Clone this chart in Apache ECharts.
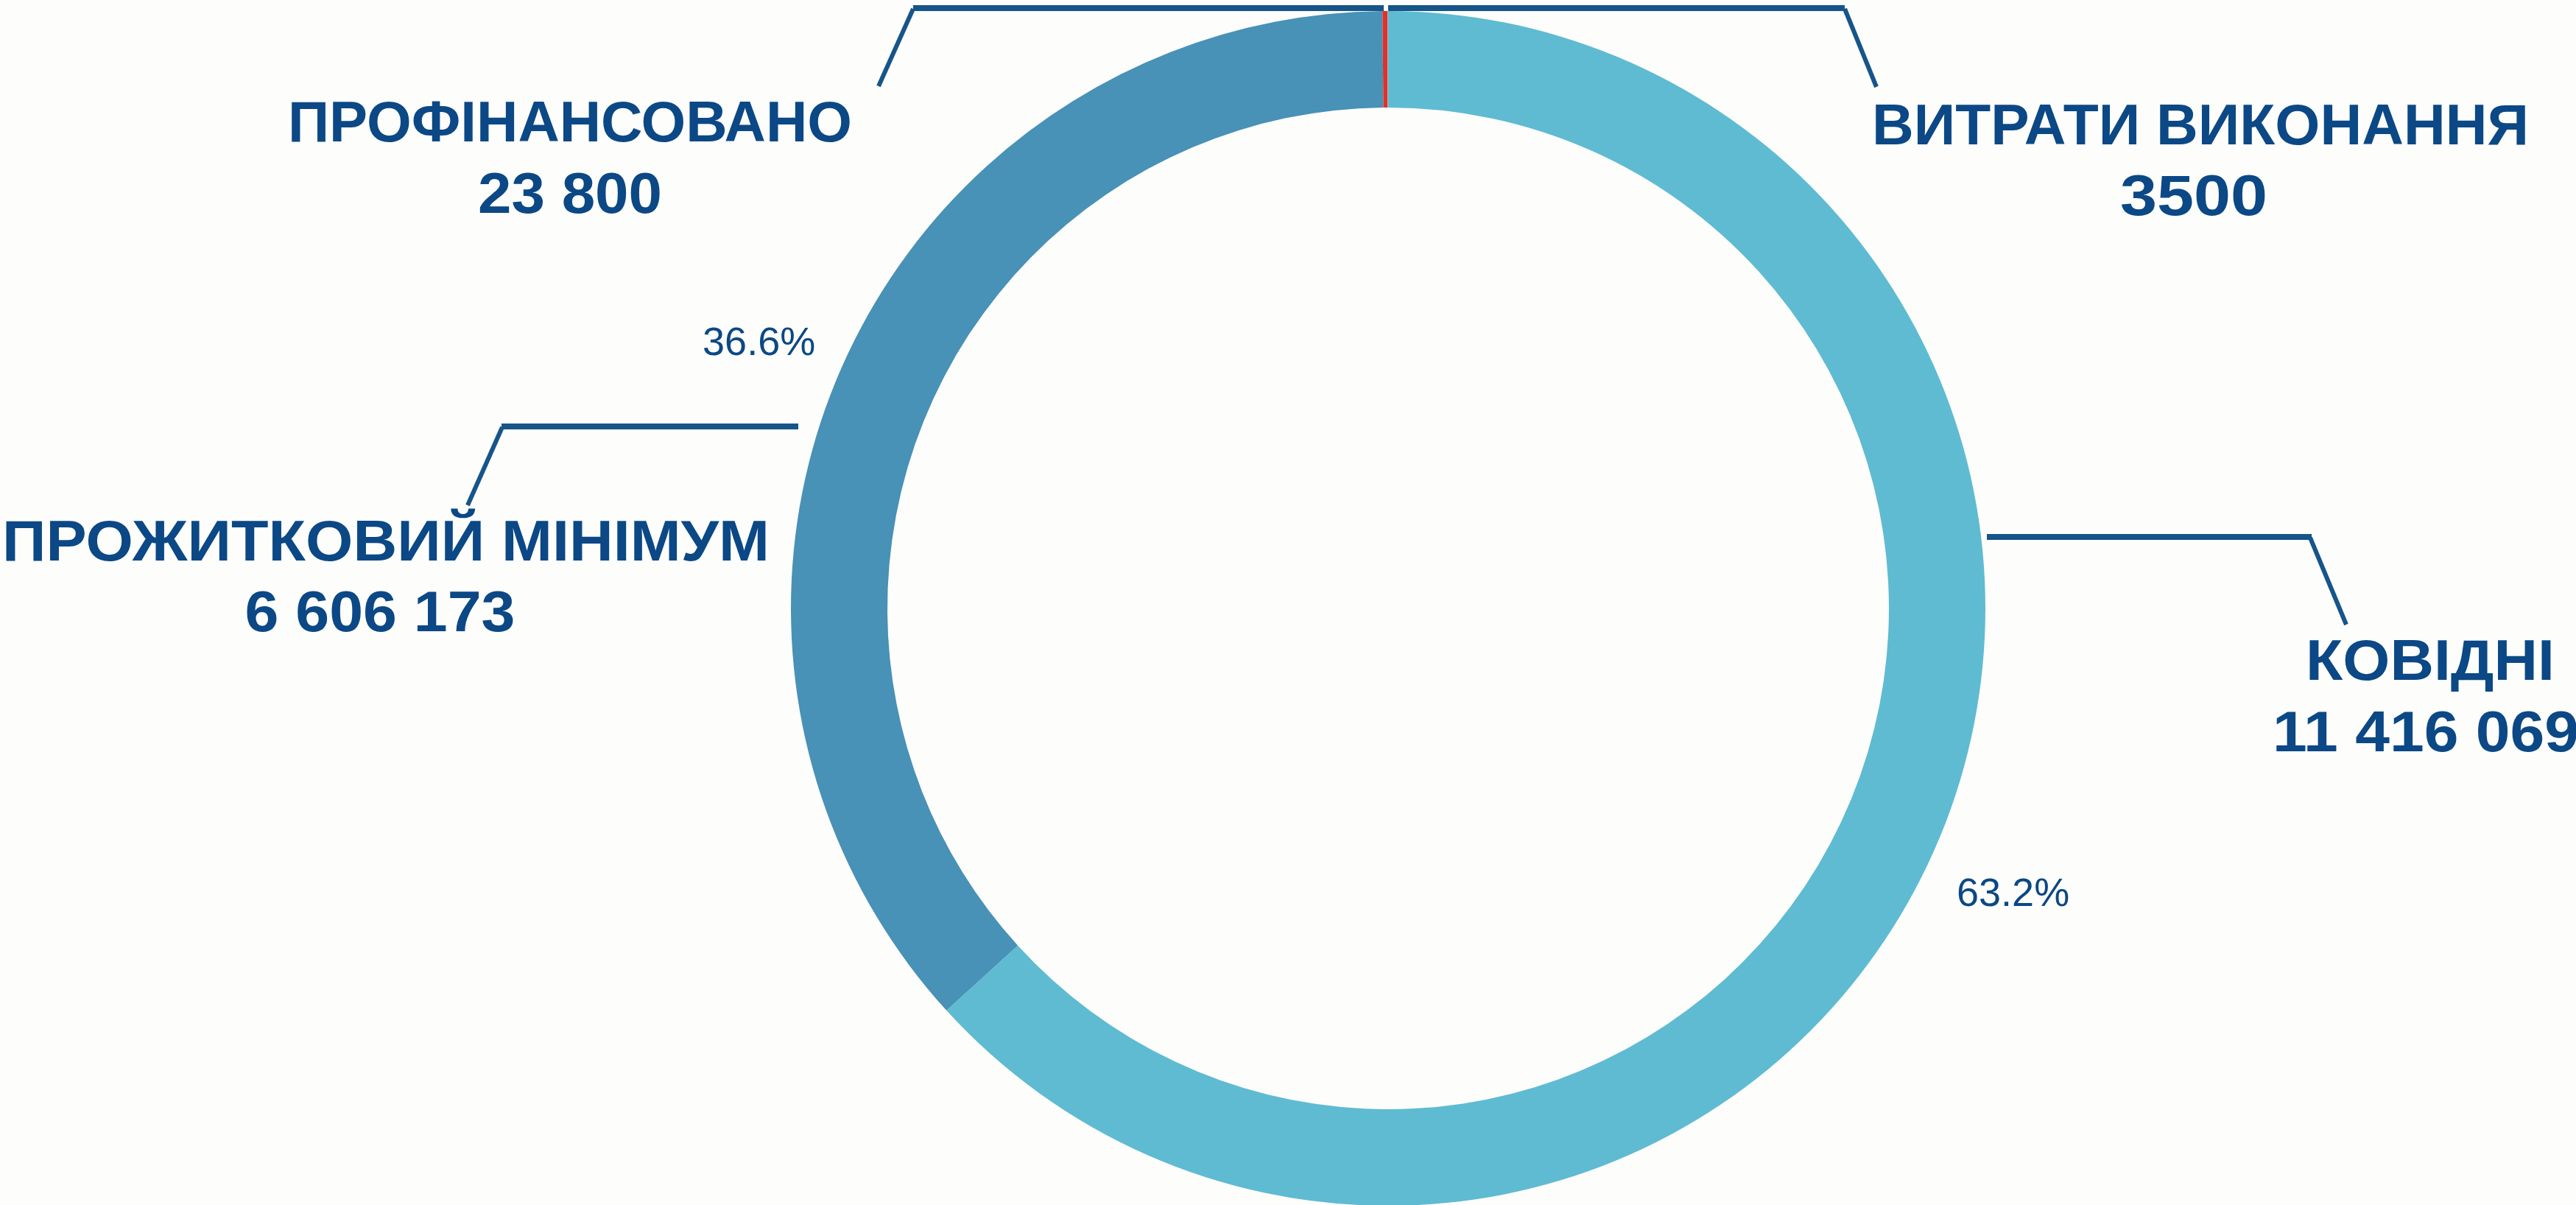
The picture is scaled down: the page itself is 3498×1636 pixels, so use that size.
<!DOCTYPE html>
<html>
<head>
<meta charset="utf-8">
<script src="https://cdn.jsdelivr.net/npm/echarts@6/dist/echarts.min.js"></script>
<style>
html,body{margin:0;padding:0;background:#fdfdfb;}
#c{width:3498px;height:1636px;}
</style>
</head>
<body>
<div id="c"></div>
<script>
// ---- data ----
const categories = ['КОВІДНІ', 'ПРОЖИТКОВИЙ МІНІМУМ', 'ПРОФІНАНСОВАНО', 'ВИТРАТИ ВИКОНАННЯ'];
const values = [11416069, 6606173, 23800, 3500];
const sliceColors = ['#5EBBD2', '#4891B7', '#E0312A', '#A9B8C2'];

// ---- helpers ----
const total = values.reduce((a, b) => a + b, 0);
function fmtValue(v) {
  if (v < 10000) return String(v);
  return String(v).replace(/\B(?=(\d{3})+(?!\d))/g, ' ');
}
function fmtPct(v) { return (v / total * 100).toFixed(1) + '%'; }

const TEXT = '#0B4885';
const LINE = '#16558A';
const FAM = '"Liberation Sans", Arial, sans-serif';
const BIG = 77;
const ctx = document.createElement('canvas').getContext('2d');
function measure(t) { ctx.font = 'bold ' + BIG + 'px ' + FAM; return ctx.measureText(t).width; }

const CX = 1885, CY = 826;

// callout layout (annotation placement)
const callouts = [
  { i: 2, nx: 774,  ny: 171, nw: 766,  vx: 774,  vy: 268, vw: 250,
    h: [[1879, 11], [1240, 11]], d: [[1240, 12], [1193, 117]] },
  { i: 3, nx: 2988, ny: 175, nw: 892,  vx: 2979, vy: 271, vw: 200,
    h: [[1885, 11], [2505, 11]], d: [[2505, 12], [2548, 118]] },
  { i: 1, nx: 524,  ny: 740, nw: 1042, vx: 516,  vy: 836, vw: 367,
    h: [[1084, 579], [681, 579]], d: [[682, 580], [635, 686]] },
  { i: 0, nx: 3300, ny: 902, nw: 338,  vx: 3294, vy: 999, vw: 416,
    h: [[2698, 729], [3139, 729]], d: [[3137, 730], [3186, 848]] }
];

const graphics = [];
callouts.forEach(c => {
  const name = categories[c.i];
  const val = fmtValue(values[c.i]);
  graphics.push({
    type: 'text', x: c.nx, y: c.ny, scaleX: c.nw / measure(name), silent: true,
    style: { text: name, fill: TEXT, fontSize: BIG, fontWeight: 'bold', fontFamily: FAM,
             align: 'center', verticalAlign: 'middle', textAlign: 'center', textVerticalAlign: 'middle' }
  });
  graphics.push({
    type: 'text', x: c.vx, y: c.vy, scaleX: c.vw / measure(val), silent: true,
    style: { text: val, fill: TEXT, fontSize: BIG, fontWeight: 'bold', fontFamily: FAM,
             align: 'center', verticalAlign: 'middle', textAlign: 'center', textVerticalAlign: 'middle' }
  });
  graphics.push({
    type: 'line', silent: true,
    shape: { x1: c.h[0][0], y1: c.h[0][1], x2: c.h[1][0], y2: c.h[1][1] },
    style: { stroke: LINE, lineWidth: 8 }
  });
  graphics.push({
    type: 'line', silent: true,
    shape: { x1: c.d[0][0], y1: c.d[0][1], x2: c.d[1][0], y2: c.d[1][1] },
    style: { stroke: LINE, lineWidth: 6 }
  });
});

const pieData = categories.map((n, i) => ({ name: n, value: values[i], itemStyle: { color: sliceColors[i] } }));

const chart = echarts.init(document.getElementById('c'), null, { renderer: 'canvas' });
chart.setOption({
  backgroundColor: '#fdfdfb',
  animation: false,
  series: [
    {
      type: 'pie', center: [CX, CY], radius: [680, 811], startAngle: 90, clockwise: true,
      silent: true, avoidLabelOverlap: false,
      itemStyle: { borderWidth: 0 },
      label: { show: false }, labelLine: { show: false },
      emphasis: { disabled: true },
      data: pieData
    },
    {
      type: 'pie', center: [CX, CY], radius: [812, 1042], startAngle: 90, clockwise: true,
      silent: true, avoidLabelOverlap: false,
      itemStyle: { color: 'rgba(0,0,0,0)', borderWidth: 0 },
      label: {
        show: true, position: 'inside', offset: [-2, 13],
        formatter: p => (p.value / total >= 0.05 ? fmtPct(p.value) : ''),
        fontSize: 54, color: TEXT, fontFamily: FAM, fontWeight: 'normal'
      },
      labelLine: { show: false },
      emphasis: { disabled: true },
      data: categories.map((n, i) => ({ name: n, value: values[i] }))
    }
  ],
  graphic: { elements: graphics }
});
</script>
</body>
</html>
